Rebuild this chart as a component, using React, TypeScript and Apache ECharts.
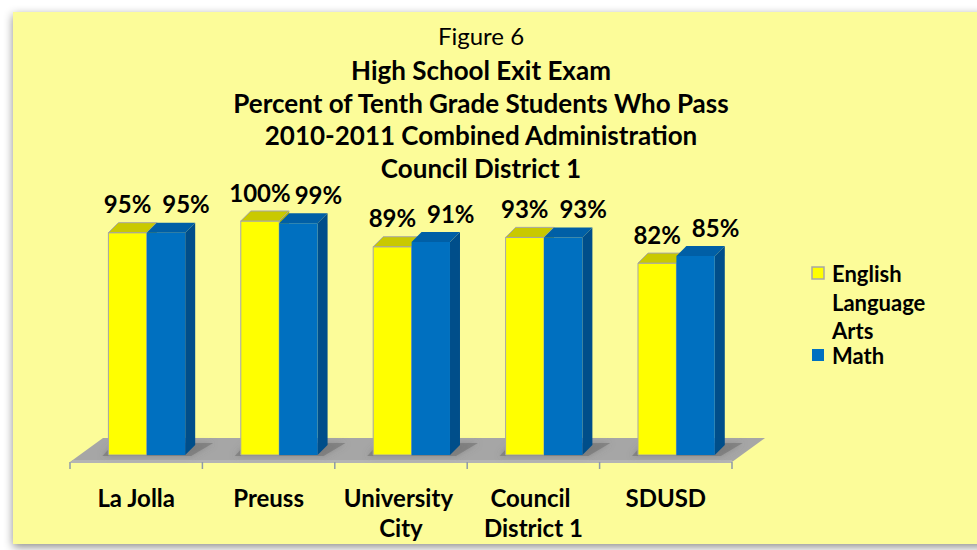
import React, { useEffect, useRef } from "react";
import * as echarts from "echarts";

const categories = ["La Jolla", "Preuss", "University City", "Council District 1", "SDUSD"];
const englishValues = [95, 100, 89, 93, 82];
const mathValues = [95, 99, 91, 93, 85];
const seriesNames = ["English Language Arts", "Math"];
const titleLines = [
  "High School Exit Exam",
  "Percent of Tenth Grade Students Who Pass",
  "2010-2011 Combined Administration",
  "Council District 1",
];

const FONT = "Lato, 'Open Sans', sans-serif";
const BAR_W = 0.29;
const BAR_OFF = 0.21;
const DX = 10;
const DY = 10;

function makeBarRenderer(index: number, front: string, top: string, side: string, stroke: string, labelShift: number) {
  return (params: any, api: any) => {
    const i = api.value(0);
    const v = api.value(1);
    const base = api.coord([i, 0]);
    const peak = api.coord([i, v]);
    const bw = api.size([1, 0])[0];
    const w = bw * BAR_W;
    const left = base[0] - bw * BAR_OFF + index * w;
    const t = peak[1];
    const b = base[1];
    const lw = stroke === "none" ? 0 : 1;
    return {
      type: "group",
      children: [
        {
          type: "polygon",
          shape: { points: [[left + w, t], [left + w + DX, t - DY], [left + w + DX, b - DY], [left + w, b]] },
          style: { fill: side },
        },
        {
          type: "rect",
          shape: { x: left, y: t, width: w, height: b - t },
          style: { fill: front, stroke: stroke, lineWidth: lw },
        },
        {
          type: "polygon",
          shape: { points: [[left, t], [left + w, t], [left + w + DX, t - DY], [left + DX, t - DY]] },
          style: { fill: top, stroke: stroke, lineWidth: lw },
        },
        {
          type: "text",
          style: {
            x: left + w / 2 + labelShift,
            y: t - 29,
            text: v + "%",
            textAlign: "center",
            textVerticalAlign: "middle",
            font: "bold 24px " + FONT,
            fill: "#000",
          },
        },
      ],
    };
  };
}

export default function App() {
  const ref = useRef<HTMLDivElement>(null);
  useEffect(() => {
    if (!ref.current) return;
    const chart = echarts.init(ref.current, null, { renderer: "svg" });
    const lf = "bold 22px " + FONT;
    const legendItems: any[] = [
      { type: "rect", shape: { x: 812, y: 267, width: 12, height: 12 }, style: { fill: "#FFFF00", stroke: "#A6A6A6", lineWidth: 1.5 } },
      { type: "text", style: { x: 832, y: 273, text: "English", font: lf, fill: "#000", textVerticalAlign: "middle" } },
      { type: "text", style: { x: 832, y: 302, text: "Language", font: lf, fill: "#000", textVerticalAlign: "middle" } },
      { type: "text", style: { x: 832, y: 330, text: "Arts", font: lf, fill: "#000", textVerticalAlign: "middle" } },
      { type: "rect", shape: { x: 812, y: 349, width: 12, height: 12 }, style: { fill: "#0070C0" } },
      { type: "text", style: { x: 832, y: 355, text: "Math", font: lf, fill: "#000", textVerticalAlign: "middle" } },
    ];
    const titleItems: any[] = [
      { type: "text", style: { x: 481, y: 35, text: "Figure 6", font: "24px " + FONT, fill: "#000", textAlign: "center", textVerticalAlign: "middle" } },
      ...titleLines.map((line, k) => ({
        type: "text",
        style: { x: 481, y: 70 + k * 32.7, text: line, font: "bold 26px " + FONT, fill: "#000", textAlign: "center", textVerticalAlign: "middle" },
      })),
    ];
    chart.setOption({
      animation: false,
      backgroundColor: "#ffffff",
      graphic: [
        {
          type: "rect",
          z: -10,
          silent: true,
          shape: { x: 13, y: 12, width: 1000, height: 532 },
          style: { fill: "#FCFC99", shadowBlur: 10, shadowOffsetY: 3, shadowColor: "rgba(0,0,0,0.45)" },
        },
        ...titleItems,
        ...legendItems,
      ],
      grid: { left: 70, width: 662, top: 221, height: 234 },
      xAxis: {
        type: "category",
        data: categories,
        offset: 7,
        axisLine: { show: false },
        axisTick: { show: false },
        axisLabel: {
          margin: 20,
          fontFamily: FONT,
          fontWeight: "bold",
          fontSize: 24,
          color: "#000",
          lineHeight: 30,
          width: 124,
          overflow: "break",
          interval: 0,
        },
        splitLine: { show: false },
      },
      yAxis: {
        type: "value",
        min: 0,
        max: 100,
        show: false,
        splitLine: { show: false },
      },
      series: [
        {
          type: "custom",
          name: "floor",
          silent: true,
          z: 1,
          data: [[0, 0]],
          renderItem: (params: any) => {
            const cs = params.coordSys;
            const x = cs.x;
            const w = cs.width;
            const yb = cs.y + cs.height;
            const fy = yb + 7;
            const by = yb - 17;
            const dx = 33;
            const n = categories.length;
            const ticks = [];
            for (let k = 0; k <= n; k++) {
              const tx = x + (k * w) / n;
              ticks.push({
                type: "line",
                shape: { x1: tx, y1: fy, x2: tx, y2: fy + 7 },
                style: { stroke: "#8E9AA8", lineWidth: 1.5 },
              });
            }
            return {
              type: "group",
              children: [
                {
                  type: "polygon",
                  shape: { points: [[x, fy], [x + w, fy], [x + w + dx, by], [x + dx, by]] },
                  style: { fill: "#A6A6A6" },
                },
                {
                  type: "polygon",
                  shape: { points: [[x, fy + 1], [x + w, fy + 1], [x + w, fy - 2], [x + 3, fy - 2]] },
                  style: { fill: "#B4B4B4" },
                },
                ...ticks,
              ],
            };
          },
        },
        {
          type: "custom",
          name: "shadow",
          silent: true,
          z: 1.5,
          data: categories.map((c, i) => [i, 0]),
          encode: { x: 0, y: 1 },
          renderItem: (params: any, api: any) => {
            const i = api.value(0);
            const base = api.coord([i, 0]);
            const bw = api.size([1, 0])[0];
            const w = bw * BAR_W;
            const left = base[0] - bw * BAR_OFF;
            const b = base[1];
            return {
              type: "polygon",
              shape: {
                points: [
                  [left - 6, b + 1],
                  [left + 2 * w + 6, b + 1],
                  [left + 2 * w + DX + 18, b - DY - 2],
                  [left + DX - 4, b - DY - 2],
                ],
              },
              style: { fill: "rgba(110,110,110,0.55)", shadowBlur: 6, shadowColor: "rgba(90,90,90,0.6)" },
            };
          },
        },
        {
          type: "custom",
          name: seriesNames[0],
          z: 2,
          data: englishValues.map((v, i) => [i, v]),
          encode: { x: 0, y: 1 },
          renderItem: makeBarRenderer(0, "#FFFF00", "#C9C900", "#B5B500", "#A6A6A6", 0),
        },
        {
          type: "custom",
          name: seriesNames[1],
          z: 3,
          data: mathValues.map((v, i) => [i, v]),
          encode: { x: 0, y: 1 },
          renderItem: makeBarRenderer(1, "#0070C0", "#005FA6", "#004E8A", "none", 20),
        },
      ],
    });
    return () => chart.dispose();
  }, []);
  return <div ref={ref} style={{ position: "fixed", left: 0, top: 0, width: 977, height: 550 }} />;
}
